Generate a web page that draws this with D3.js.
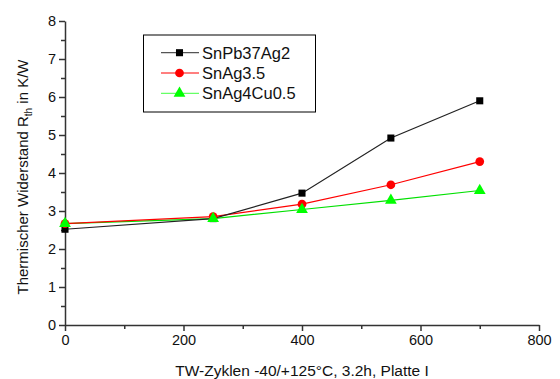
<!DOCTYPE html>
<html lang="de">
<head>
<meta charset="UTF-8" />
<script src="https://d3js.org/d3.v7.min.js"></script>
<style>
  body { margin: 0; background: #fff; font-family: "Liberation Sans", Arial, sans-serif; }
  .tick text { font-size: 14.5px; fill: #111; font-family: "Liberation Sans", Arial, sans-serif; }
  .axis path, .axis line { stroke: #333; stroke-width: 1.5; }
</style>
</head>
<body>
<div id="chart"></div>
<script>
  const cycles = [0, 250, 400, 550, 700];
  const snPb37Ag2 = [2.52, 2.8, 3.47, 4.92, 5.9];
  const snAg35 = [2.67, 2.85, 3.18, 3.69, 4.3];
  const snAg4Cu05 = [2.67, 2.8, 3.04, 3.28, 3.54];
  const seriesNames = ["SnPb37Ag2", "SnAg3.5", "SnAg4Cu0.5"];
  const xTicks = [0, 200, 400, 600, 800];
  const yTicks = [0, 1, 2, 3, 4, 5, 6, 7, 8];

  const width = 560, height = 379;
  const margin = { top: 21, right: 21, bottom: 54, left: 65 };

  const svg = d3.select("#chart").append("svg")
    .attr("width", width).attr("height", height);

  const x = d3.scaleLinear().domain([0, 800]).range([margin.left, width - margin.right]);
  const y = d3.scaleLinear().domain([0, 8]).range([height - margin.bottom, margin.top]);

  // minor ticks
  svg.append("g").attr("class", "axis")
    .attr("transform", `translate(0,${height - margin.bottom})`)
    .call(d3.axisBottom(x).tickValues(d3.range(100, 800, 200)).tickSize(4).tickFormat(""))
    .call(g => g.select(".domain").remove());
  svg.append("g").attr("class", "axis")
    .attr("transform", `translate(${margin.left},0)`)
    .call(d3.axisLeft(y).tickValues(d3.range(0.5, 8, 1)).tickSize(4).tickFormat(""))
    .call(g => g.select(".domain").remove());

  svg.append("g").attr("class", "axis")
    .attr("transform", `translate(0,${height - margin.bottom})`)
    .call(d3.axisBottom(x).tickValues(xTicks).tickSize(6).tickSizeOuter(0).tickPadding(4));
  svg.append("g").attr("class", "axis")
    .attr("transform", `translate(${margin.left},0)`)
    .call(d3.axisLeft(y).tickValues(yTicks).tickSize(6).tickSizeOuter(0).tickPadding(3));

  svg.append("text")
    .attr("x", 302)
    .attr("y", 376)
    .attr("text-anchor", "middle")
    .attr("font-size", 15.5)
    .attr("fill", "#111")
    .text("TW-Zyklen -40/+125°C, 3.2h, Platte I");

  const yl = svg.append("text")
    .attr("transform", "translate(28,177) rotate(-90)")
    .attr("text-anchor", "middle")
    .attr("font-size", 15)
    .attr("fill", "#111");
  yl.append("tspan").text("Thermischer Widerstand R");
  yl.append("tspan").attr("font-size", 10).attr("dy", 4).text("th");
  yl.append("tspan").attr("dy", -4).text(" in K/W");

  const series = [
    { name: seriesNames[0], values: snPb37Ag2, color: "#000", line: "#222", shape: d3.symbolSquare, size: 50 },
    { name: seriesNames[1], values: snAg35, color: "#ff0000", line: "#ff0000", shape: d3.symbolCircle, size: 60 },
    { name: seriesNames[2], values: snAg4Cu05, color: "#00ff00", line: "#00e000", shape: d3.symbolTriangle, size: 60 }
  ];

  const line = d3.line().x((d, i) => x(cycles[i])).y(d => y(d));

  series.slice().reverse().forEach(s => {
    svg.append("path")
      .datum(s.values)
      .attr("fill", "none")
      .attr("stroke", s.line)
      .attr("stroke-width", 1.2)
      .attr("d", line);
  });
  series.forEach(s => {
    svg.selectAll(null)
      .data(s.values)
      .enter().append("path")
      .attr("transform", (d, i) => `translate(${x(cycles[i])},${y(d)})`)
      .attr("d", d3.symbol().type(s.shape).size(s.size))
      .attr("fill", s.color);
  });

  // legend
  const lg = svg.append("g");
  lg.append("rect")
    .attr("x", 143.5).attr("y", 35).attr("width", 172).attr("height", 77)
    .attr("fill", "#fff").attr("stroke", "#000").attr("stroke-width", 1);
  series.forEach((s, i) => {
    const ly = 52.7 + i * 20.3;
    lg.append("line").attr("x1", 161).attr("x2", 199).attr("y1", ly).attr("y2", ly)
      .attr("stroke", i === 0 ? "#555" : (i === 2 ? "#66ff66" : s.line)).attr("stroke-width", 1.2);
    lg.append("path")
      .attr("transform", `translate(179.5,${ly})`)
      .attr("d", d3.symbol().type(s.shape).size(s.size))
      .attr("fill", s.color);
    lg.append("text").attr("x", 202).attr("y", ly + 6)
      .attr("font-size", 16.5).attr("fill", "#111").text(s.name);
  });
</script>
</body>
</html>
